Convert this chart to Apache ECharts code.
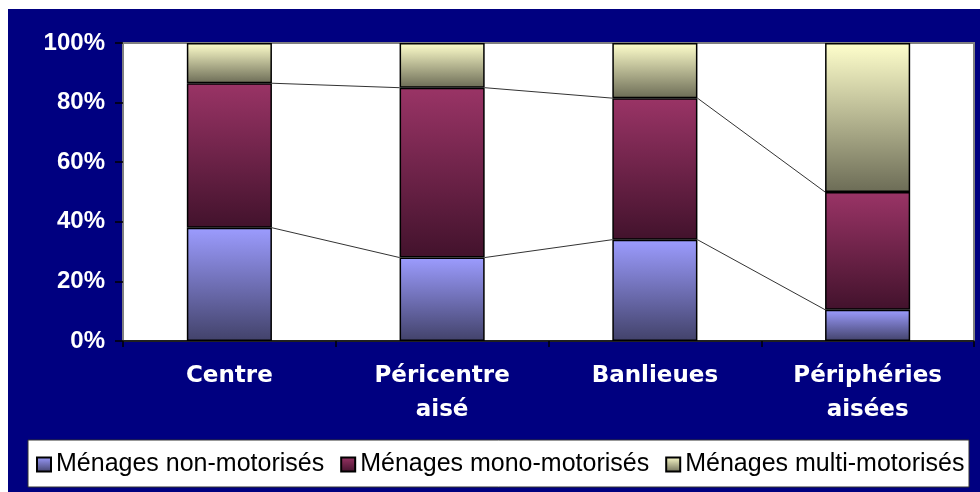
<!DOCTYPE html>
<html>
<head>
<meta charset="utf-8">
<script src="https://cdn.jsdelivr.net/npm/echarts@6/dist/echarts.min.js"></script>
<style>
  html, body { margin: 0; padding: 0; background: #ffffff; }
  #chart { position: absolute; left: 8px; top: 9px; width: 972px; height: 483px; background: #000080; }
</style>
</head>
<body>
<div id="chart"></div>
<script>
// données (parts en %)
const categories = ['Centre', 'Péricentre\naisé', 'Banlieues', 'Périphéries\naisées'];
const nonMotorises = [38, 28, 34, 10.5];
const monoMotorises = [48.5, 57, 47.5, 39.5];
const multiMotorises = [13.5, 15, 18.5, 50];
const seriesNames = ['Ménages non-motorisés', 'Ménages mono-motorisés', 'Ménages multi-motorisés'];
const yTicks = [0, 20, 40, 60, 80, 100];

const chart = echarts.init(document.getElementById('chart'));

const grad = (top, bottom) => new echarts.graphic.LinearGradient(0, 0, 0, 1, [
    { offset: 0, color: top },
    { offset: 1, color: bottom }
]);

// cumuls pour les lignes de liaison entre barres
const cum1 = nonMotorises.slice();
const cum2 = nonMotorises.map((v, i) => v + monoMotorises[i]);
const linkData = [];
for (let i = 0; i < categories.length - 1; i++) {
    linkData.push([i, cum1[i], cum1[i + 1]]);
    linkData.push([i, cum2[i], cum2[i + 1]]);
}

const barStyle = (top, bottom) => ({
    color: grad(top, bottom),
    borderColor: '#000000',
    borderWidth: 1.5
});

const option = {
    animation: false,
    grid: {
        left: 115, top: 34, right: 6, bottom: 151,
        show: true,
        backgroundColor: '#ffffff',
        borderColor: '#808080',
        borderWidth: 2
    },
    graphic: [{
        type: 'rect',
        shape: { x: 20, y: 431, width: 941, height: 47 },
        style: { fill: '#ffffff', stroke: '#333333', lineWidth: 1 },
        z: 0
    }],
    legend: {
        data: seriesNames,
        left: 28,
        top: 443,
        padding: 0,
        itemWidth: 14,
        itemHeight: 14,
        itemGap: 16,
        icon: 'rect',
        textStyle: { fontFamily: 'Liberation Sans, Arial', fontSize: 25, color: '#000000' },
        z: 5
    },
    xAxis: {
        type: 'category',
        data: categories,
        axisLine: { show: true, lineStyle: { color: '#000000', width: 1.5 } },
        axisTick: { show: true, length: 6, interval: 0, lineStyle: { color: '#000000', width: 1.5 } },
        axisLabel: {
            color: '#ffffff',
            fontFamily: 'DejaVu Sans',
            fontWeight: 'bold',
            fontSize: 23,
            lineHeight: 34,
            margin: 18,
            interval: 0
        }
    },
    yAxis: {
        type: 'value',
        min: 0,
        max: 100,
        interval: 20,
        axisLine: { show: true, lineStyle: { color: '#808080', width: 2 } },
        axisTick: { show: true, length: 8, lineStyle: { color: '#000000', width: 1.5 } },
        splitLine: { show: false },
        axisLabel: {
            color: '#ffffff',
            fontFamily: 'Liberation Sans, Arial',
            fontWeight: 'bold',
            fontSize: 24,
            margin: 18,
            formatter: v => yTicks.includes(v) ? v + '%' : ''
        }
    },
    series: [
        {
            name: seriesNames[0], type: 'bar', stack: 'total', barWidth: '40%',
            data: nonMotorises, itemStyle: barStyle('#9c9cff', '#42426a')
        },
        {
            name: seriesNames[1], type: 'bar', stack: 'total', barWidth: '40%',
            data: monoMotorises, itemStyle: barStyle('#9a3466', '#42122c')
        },
        {
            name: seriesNames[2], type: 'bar', stack: 'total', barWidth: '40%',
            data: multiMotorises, itemStyle: barStyle('#ffffcc', '#6c6c56')
        },
        {
            // lignes de séries (style Excel) entre les sommets des segments
            type: 'custom',
            data: linkData,
            z: 3,
            silent: true,
            renderItem: (params, api) => {
                const i = api.value(0);
                const bw = api.size([1, 0])[0] * 0.4;
                const p1 = api.coord([i, api.value(1)]);
                const p2 = api.coord([i + 1, api.value(2)]);
                return {
                    type: 'line',
                    shape: { x1: p1[0] + bw / 2, y1: p1[1], x2: p2[0] - bw / 2, y2: p2[1] },
                    style: { stroke: '#333333', lineWidth: 1 }
                };
            }
        }
    ]
};

chart.setOption(option);
window.addEventListener('resize', () => chart.resize());
</script>
</body>
</html>
